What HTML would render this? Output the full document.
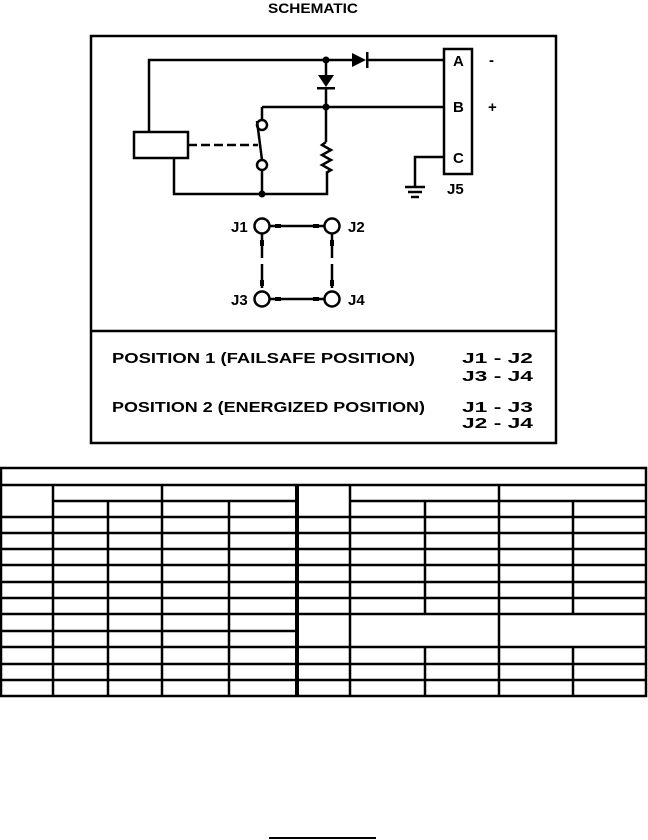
<!DOCTYPE html>
<html><head><meta charset="utf-8"><style>
html,body{margin:0;padding:0;background:#fff;}
svg{display:block;}
text{font-family:"Liberation Sans",sans-serif;font-weight:bold;fill:#000;}
</style></head><body>
<svg width="648" height="840" viewBox="0 0 648 840" xmlns="http://www.w3.org/2000/svg">
<text x="268" y="13" font-size="14" textLength="90" lengthAdjust="spacingAndGlyphs">SCHEMATIC</text>
<rect x="91" y="36" width="465" height="407" fill="none" stroke="#000" stroke-width="2.5"/>
<line x1="91" y1="331" x2="556" y2="331" stroke="#000" stroke-width="2.5"/>
<g stroke="#000" stroke-width="2.5" fill="none">
<polyline points="149,132 149,60 352,60"/>
<line x1="367" y1="60" x2="444" y2="60"/>
<line x1="326" y1="60" x2="326" y2="75"/>
<line x1="326" y1="88" x2="326" y2="142"/>
<line x1="262" y1="107" x2="444" y2="107"/>
<polyline points="262,120 262,107"/>
<line x1="257" y1="121" x2="262" y2="160"/>
<line x1="262" y1="170" x2="262" y2="194"/>
<polyline points="174,158 174,194 327,194 327,173"/>
<polyline points="326,142 322,145 331,150 322,155 331,160 322,165 331,170 326,173"/>
<rect x="134" y="132" width="54" height="26"/>
<line x1="188" y1="145" x2="258" y2="145" stroke-dasharray="9,4"/>
<rect x="444" y="49" width="28" height="125"/>
<polyline points="444,157 415,157 415,187"/>
<line x1="405" y1="187" x2="425" y2="187"/>
<line x1="408" y1="192" x2="422" y2="192"/>
<line x1="411" y1="197" x2="419" y2="197"/>
<circle cx="262" cy="125" r="5"/>
<circle cx="262" cy="165" r="5"/>
<circle cx="262" cy="226" r="7.5"/>
<circle cx="332" cy="226" r="7.5"/>
<circle cx="262" cy="299" r="7.5"/>
<circle cx="332" cy="299" r="7.5"/>
<line x1="269" y1="226" x2="325" y2="226"/>
<line x1="269" y1="299" x2="325" y2="299"/>
<line x1="262" y1="234" x2="262" y2="291" stroke-dasharray="24,6"/>
<line x1="332" y1="234" x2="332" y2="291" stroke-dasharray="24,6"/>
</g>
<g fill="#000">
<polygon points="352,53 352,67 366,60"/><rect x="366" y="52" width="2.5" height="16"/>
<polygon points="318,75 334,75 326,87"/><rect x="317" y="87" width="18" height="2.5"/>
<circle cx="326" cy="60" r="3.5"/><circle cx="326" cy="107" r="3.5"/><circle cx="262" cy="194" r="3.5"/>
<rect x="275" y="224" width="6" height="4"/><rect x="313" y="224" width="6" height="4"/>
<rect x="275" y="297" width="6" height="4"/><rect x="313" y="297" width="6" height="4"/>
<rect x="260" y="240" width="4" height="6"/><rect x="260" y="280" width="4" height="6"/>
<rect x="330" y="240" width="4" height="6"/><rect x="330" y="280" width="4" height="6"/>
</g>
<g font-size="15">
<text x="453" y="66">A</text><text x="453" y="112">B</text><text x="453" y="163">C</text>
<text x="489" y="65">-</text><text x="488" y="112">+</text>
<text x="447" y="194">J5</text>
<text x="231" y="232">J1</text><text x="348" y="232">J2</text>
<text x="231" y="305">J3</text><text x="348" y="305">J4</text>
</g>
<g font-size="15">
<text x="112" y="363" textLength="303" lengthAdjust="spacingAndGlyphs">POSITION 1 (FAILSAFE POSITION)</text>
<text x="462" y="363" textLength="71" lengthAdjust="spacingAndGlyphs">J1 - J2</text>
<text x="462" y="381" textLength="71" lengthAdjust="spacingAndGlyphs">J3 - J4</text>
<text x="112" y="412" textLength="313" lengthAdjust="spacingAndGlyphs">POSITION 2 (ENERGIZED POSITION)</text>
<text x="462" y="412" textLength="71" lengthAdjust="spacingAndGlyphs">J1 - J3</text>
<text x="462" y="428" textLength="71" lengthAdjust="spacingAndGlyphs">J2 - J4</text>
</g>
<g stroke="#000" stroke-width="2.5" fill="none">
<rect x="1" y="468" width="645" height="228"/>
<line x1="1" y1="485" x2="646" y2="485"/>
<line x1="53" y1="501" x2="296" y2="501"/>
<line x1="350" y1="501" x2="646" y2="501"/>
<line x1="1" y1="517" x2="646" y2="517"/>
<line x1="1" y1="533" x2="646" y2="533"/>
<line x1="1" y1="549" x2="646" y2="549"/>
<line x1="1" y1="565" x2="646" y2="565"/>
<line x1="1" y1="582" x2="646" y2="582"/>
<line x1="1" y1="598" x2="646" y2="598"/>
<line x1="1" y1="614" x2="646" y2="614"/>
<line x1="1" y1="631" x2="296" y2="631"/>
<line x1="1" y1="647" x2="646" y2="647"/>
<line x1="1" y1="664" x2="646" y2="664"/>
<line x1="1" y1="680" x2="646" y2="680"/>
<line x1="53" y1="485" x2="53" y2="696"/>
<line x1="162" y1="485" x2="162" y2="696"/>
<line x1="108" y1="501" x2="108" y2="696"/>
<line x1="229" y1="501" x2="229" y2="696"/>
<line x1="297" y1="485" x2="297" y2="696" stroke-width="4"/>
<line x1="350" y1="485" x2="350" y2="696"/>
<line x1="499" y1="485" x2="499" y2="696"/>
<line x1="425" y1="501" x2="425" y2="614"/>
<line x1="573" y1="501" x2="573" y2="614"/>
<line x1="425" y1="647" x2="425" y2="696"/>
<line x1="573" y1="647" x2="573" y2="696"/>
</g>
<line x1="269" y1="838" x2="376" y2="838" stroke="#000" stroke-width="2"/>
</svg>
</body></html>
